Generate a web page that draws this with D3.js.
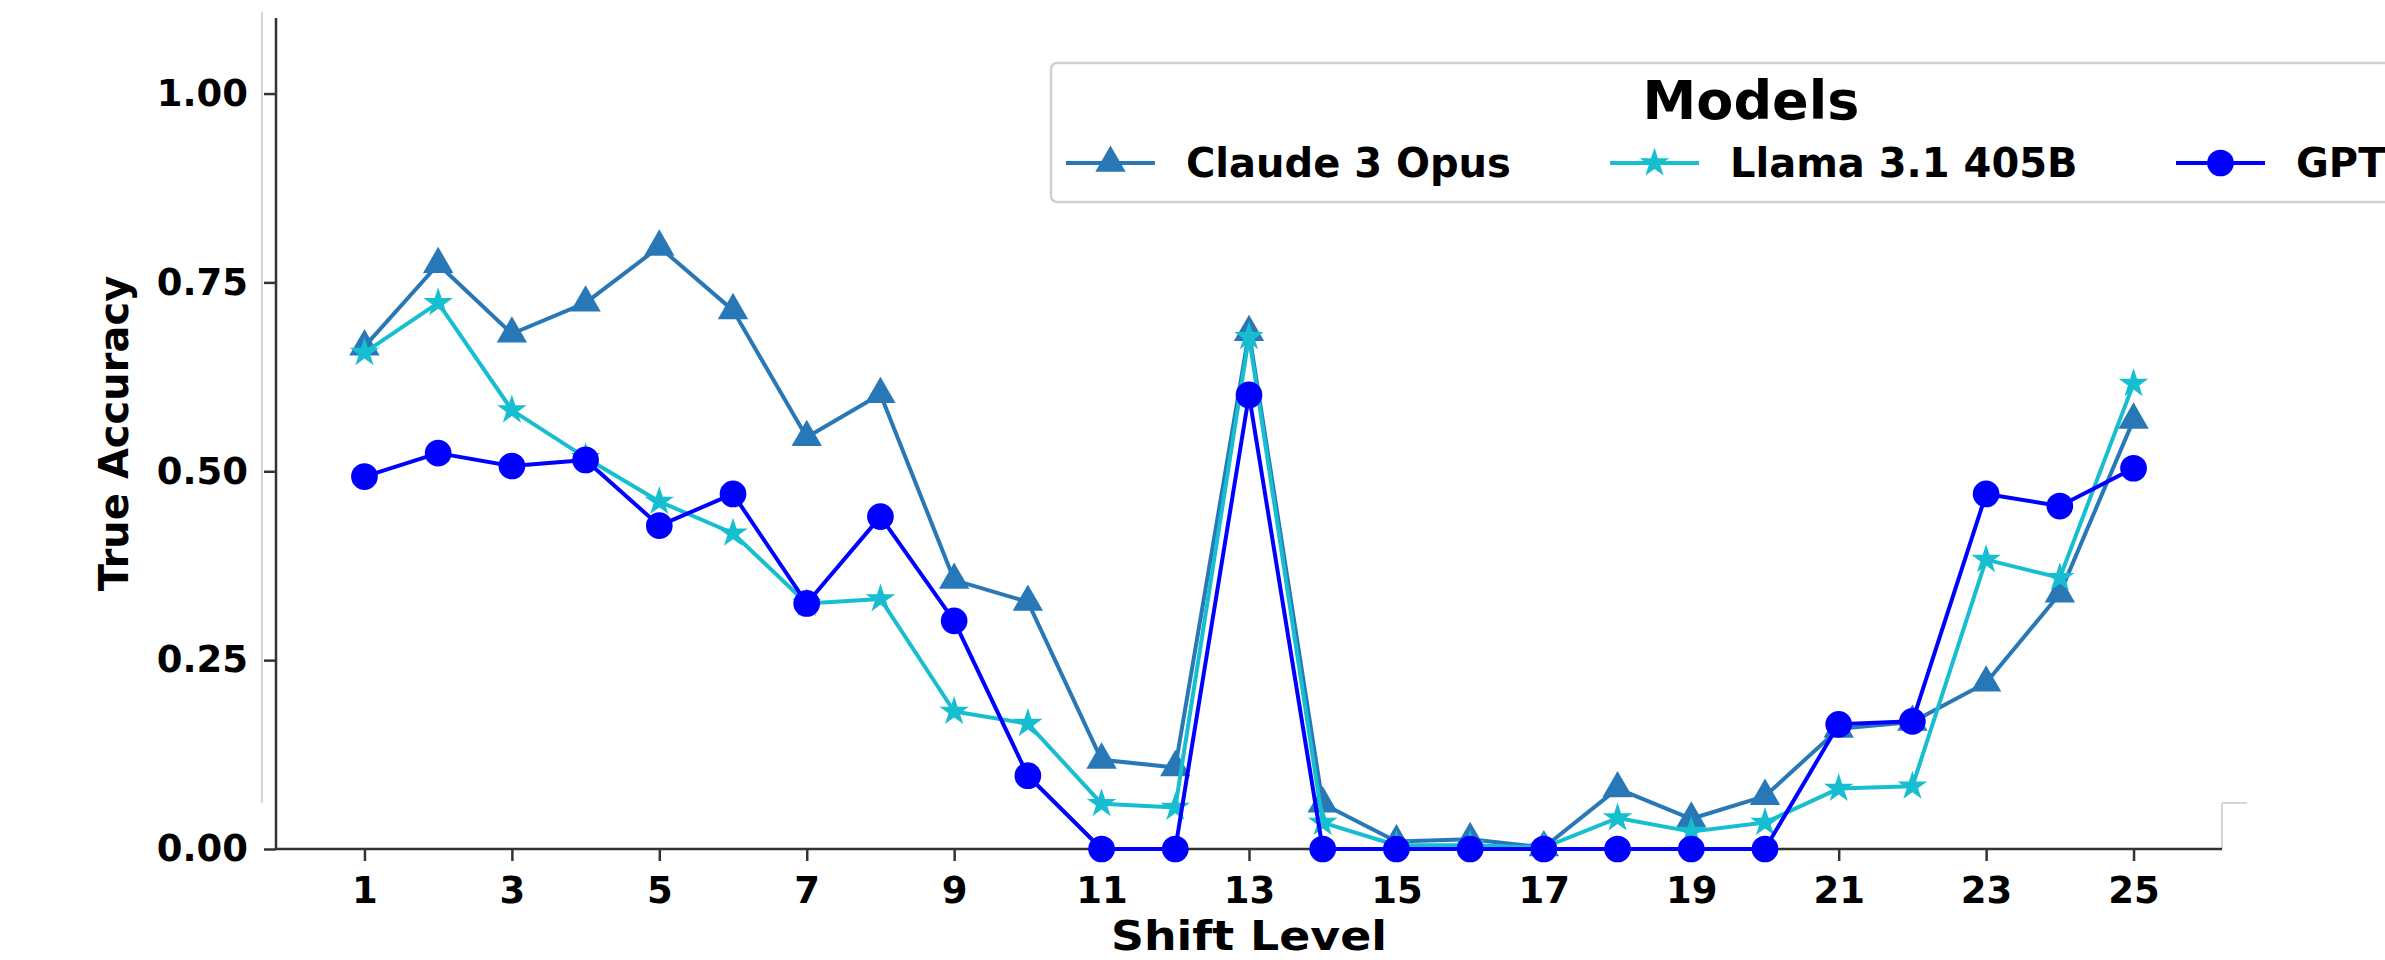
<!DOCTYPE html>
<html>
<head>
<meta charset="utf-8">
<script src="https://cdn.jsdelivr.net/npm/d3@7"></script>
<style>
  body { margin: 0; background: #fff; }
  svg { display: block; font-family: "DejaVu Sans", sans-serif; font-weight: bold; }
</style>
</head>
<body>
<svg id="chart" width="2385" height="960"></svg>
<script>
// shift levels 1..25
const shiftLevels = d3.range(1, 26);
const xTickValues = [1, 3, 5, 7, 9, 11, 13, 15, 17, 19, 21, 23, 25];
const yTickValues = [0, 0.25, 0.5, 0.75, 1.0];

// third name is cut at the page edge in the original, only "GPT" shows
const modelNames = ['Claude 3 Opus', 'Llama 3.1 405B', 'GPT'];

// values
const claudeValues = [0.665, 0.774, 0.682, 0.723, 0.797, 0.713, 0.545, 0.602, 0.356, 0.327,
  0.118, 0.108, 0.684, 0.06, 0.01, 0.013, 0.002, 0.08, 0.04, 0.07,
  0.159, 0.168, 0.22, 0.338, 0.568];
const llamaValues = [0.657, 0.723, 0.581, 0.518, 0.46, 0.418, 0.325, 0.331, 0.182, 0.166,
  0.06, 0.055, 0.678, 0.035, 0.005, 0.005, 0.002, 0.041, 0.023, 0.035,
  0.08, 0.083, 0.383, 0.359, 0.616];
const gptValues = [0.493, 0.524, 0.507, 0.515, 0.428, 0.47, 0.325, 0.44, 0.302, 0.097,
  0, 0, 0.601, 0, 0, 0, 0, 0, 0, 0,
  0.165, 0.169, 0.47, 0.454, 0.504];

const seriesColors = ['#2878b8', '#17becf', '#0000ff'];
const seriesSymbols = [d3.symbolTriangle, d3.symbolStar, d3.symbolCircle];
const symbolSizes = [400, 270, 560];

const svg = d3.select('#chart');

// plot area
const plotLeft = 276, plotRight = 2222, plotTop = 18, plotBottom = 849;

const x = d3.scaleLinear().domain([-0.2, 26.2]).range([plotLeft, plotRight]);
const y = d3.scaleLinear().domain([0, 1.1]).range([plotBottom, plotTop]);

// faint frame left over from the original figure
svg.append('line').attr('x1', 262).attr('x2', 262).attr('y1', 12).attr('y2', 803)
  .attr('stroke', '#d6d6d6').attr('stroke-width', 2);
svg.append('line').attr('x1', plotRight).attr('x2', 2247).attr('y1', 803).attr('y2', 803)
  .attr('stroke', '#d6d6d6').attr('stroke-width', 2);
svg.append('line').attr('x1', plotRight).attr('x2', plotRight).attr('y1', 803).attr('y2', plotBottom)
  .attr('stroke', '#d6d6d6').attr('stroke-width', 2);

// axes
const xAxis = d3.axisBottom(x).tickValues(xTickValues).tickSize(12).tickPadding(8)
  .tickFormat(d3.format('d'));
const yAxis = d3.axisLeft(y).tickValues(yTickValues).tickSize(12).tickPadding(16)
  .tickFormat(d3.format('.2f'));

const gx = svg.append('g').attr('transform', `translate(0,${plotBottom})`).call(xAxis);
const gy = svg.append('g').attr('transform', `translate(${plotLeft},0)`).call(yAxis);

[gx, gy].forEach(g => {
  g.select('.domain').attr('stroke', '#333').attr('stroke-width', 2.5);
  g.selectAll('.tick line').attr('stroke', '#333').attr('stroke-width', 2.5);
  g.selectAll('.tick text')
    .attr('fill', '#000')
    .style('font-family', '"DejaVu Sans", sans-serif')
    .style('font-weight', 'bold')
    .style('font-size', '37px');
});
gy.select('.domain').attr('d', `M0,${plotBottom}V${plotTop}`);
gx.select('.domain').attr('d', `M${plotLeft},0H${plotRight}`);
gx.selectAll('.tick text').attr('dy', '0.92em');

// axis labels
svg.append('text')
  .attr('x', (plotLeft + plotRight) / 2)
  .attr('y', 950)
  .attr('text-anchor', 'middle')
  .attr('textLength', 276)
  .attr('lengthAdjust', 'spacingAndGlyphs')
  .style('font-size', '40px')
  .text('Shift Level');

svg.append('text')
  .attr('transform', `translate(128,${(plotTop + plotBottom) / 2}) rotate(-90)`)
  .attr('text-anchor', 'middle')
  .style('font-size', '40px')
  .text('True Accuracy');

// series
const allSeries = [claudeValues, llamaValues, gptValues];
const line = d3.line()
  .x((d, i) => x(shiftLevels[i]))
  .y(d => y(d));

allSeries.forEach((values, k) => {
  const g = svg.append('g');
  g.append('path')
    .datum(values)
    .attr('d', line)
    .attr('fill', 'none')
    .attr('stroke', seriesColors[k])
    .attr('stroke-width', 4)
    .attr('stroke-linejoin', 'round');
  g.selectAll('path.marker')
    .data(values)
    .join('path')
    .attr('class', 'marker')
    .attr('d', d3.symbol().type(seriesSymbols[k]).size(symbolSizes[k]))
    .attr('transform', (d, i) => `translate(${x(shiftLevels[i])},${y(d)})`)
    .attr('fill', seriesColors[k]);
});

// legend (runs off the right edge like the original)
const legend = svg.append('g');
legend.append('rect')
  .attr('x', 1051).attr('y', 63)
  .attr('width', 1402).attr('height', 139)
  .attr('rx', 6)
  .attr('fill', '#fff')
  .attr('stroke', '#d0d0d0')
  .attr('stroke-width', 2.5);

legend.append('text')
  .attr('x', 1751).attr('y', 119)
  .attr('text-anchor', 'middle')
  .style('font-size', '54px')
  .text('Models');

const legendX = [1066, 1610, 2176];
modelNames.forEach((name, k) => {
  const lx = legendX[k];
  legend.append('line')
    .attr('x1', lx).attr('x2', lx + 89)
    .attr('y1', 163).attr('y2', 163)
    .attr('stroke', seriesColors[k]).attr('stroke-width', 4);
  legend.append('path')
    .attr('d', d3.symbol().type(seriesSymbols[k]).size(symbolSizes[k]))
    .attr('transform', `translate(${lx + 44.5},163)`)
    .attr('fill', seriesColors[k]);
  legend.append('text')
    .attr('x', lx + 120).attr('y', 177)
    .style('font-size', '40px')
    .text(name);
});
</script>
</body>
</html>
